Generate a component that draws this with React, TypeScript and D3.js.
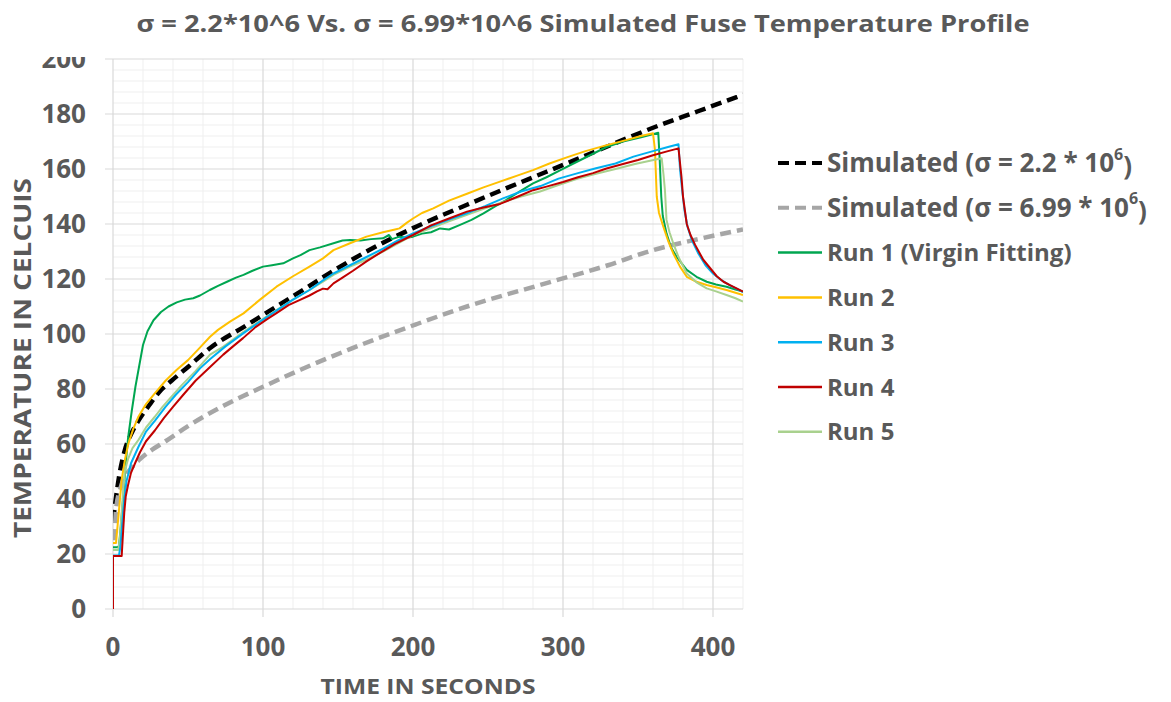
import * as d3 from "d3";

// ---- chart data ----
const TITLE = "σ = 2.2*10^6 Vs. σ = 6.99*10^6 Simulated Fuse Temperature Profile";
const X_LABEL = "TIME IN SECONDS";
const Y_LABEL = "TEMPERATURE IN CELCUIS";
const xTicks = [0, 100, 200, 300, 400];
const yTicks = [0, 20, 40, 60, 80, 100, 120, 140, 160, 180, 200];

// [time s, temperature C]
const simHigh: [number, number][] = [
  [0, 32], [4, 48], [8, 58], [12, 63.5], [17, 68.5], [24, 74], [31, 79], [39, 83], [50, 88],
  [65, 95], [87, 102.5], [109, 110], [131, 117.5], [147, 123], [169, 130], [200, 138.5],
  [236, 147], [260, 152.5], [289, 159], [320, 166], [360, 175], [390, 181], [420, 187],
];
const simLow: [number, number][] = [
  [1, 25], [2, 36], [5, 44], [8, 48], [12.5, 51.5], [18, 54.5], [25, 57.5], [35, 61],
  [50, 66.5], [74, 74], [100, 80.8], [125, 87], [158, 94.5], [202, 103.5], [236, 110],
  [289, 118.5], [330, 125], [360, 130.5], [390, 134.5], [420, 138],
];
const run1: [number, number][] = [
  [0, 22.5], [3, 22.5], [4, 23], [5.5, 32], [7, 42], [8.5, 53], [10, 62], [12.5, 72], [15, 81],
  [17, 87], [20, 96], [23, 101], [27, 105], [32, 108], [37, 110], [42.5, 111.5], [48, 112.5],
  [53.5, 113], [58, 114], [64.5, 116], [70, 117.5], [76, 119], [82, 120.5], [87, 121.5],
  [93, 123], [100, 124.5], [106, 125], [113.5, 125.7], [120, 127.5], [125, 128.7], [131, 130.5],
  [138, 131.5], [147, 133], [153, 134], [158, 134.2], [165, 134], [172, 134.5], [180, 134.8],
  [184, 136], [186, 134.5], [191, 135.4], [196, 135], [200, 135.4], [206, 136.5], [212, 137],
  [218, 138.4], [224, 138], [231, 139.6], [239, 141.5], [247, 143.9], [255, 146.5], [262, 148.7],
  [271, 151.8], [280, 154.8], [289, 157], [298, 159.5], [307, 162], [318, 165], [329, 168],
  [340, 170], [352, 171.5], [363.5, 173.2], [364.5, 163], [365.5, 150], [366.5, 143], [369, 136.6],
  [372, 131.5], [375.8, 128], [382.5, 123.3], [389, 120.8], [395.8, 119], [402, 118], [409, 117.2],
  [415, 116.2], [420, 115.4],
];
const run2: [number, number][] = [
  [0, 24], [2, 24], [3.6, 33.6], [5.8, 47], [8, 54.5], [10.2, 60], [13.5, 65.5], [17, 70],
  [22, 74.5], [28, 78.5], [35, 83], [42.5, 87], [50, 90.5], [57, 94.5], [64.7, 99], [70, 101.5],
  [78, 104.5], [87, 107.5], [98, 112.5], [109, 117.2], [120, 121], [131, 124.5], [140, 127.5],
  [147, 130.5], [158, 133], [169, 135.4], [180, 137], [188, 138], [191, 138.4], [196, 140.5],
  [200, 142], [206, 144], [213.5, 145.7], [224, 148.5], [236, 151], [247, 153.3], [258, 155.4],
  [269, 157.5], [280, 159.6], [291, 162], [303, 164.3], [315, 166.5], [328, 168.5], [342, 170.5],
  [352, 172], [360, 173], [361.3, 167], [362.5, 150], [364, 144], [366.9, 139], [370, 134],
  [373.5, 129.3], [378, 124.5], [382.5, 120.8], [389, 119], [395.8, 117.8], [402, 117], [409, 116],
  [415, 115], [420, 114.2],
];
const run3: [number, number][] = [
  [0, 19.5], [4, 19.5], [5, 23], [6, 30], [7.5, 40], [9, 46.5], [12, 53], [17, 59], [22, 64.5],
  [28, 68.5], [35, 73.5], [42, 78], [50, 82.5], [58, 87.5], [65, 91], [75, 95.5], [87, 100.3],
  [98, 104.5], [109, 108.5], [120, 112.5], [131, 116], [140, 119.5], [147, 122], [158, 125],
  [169, 128], [180, 131], [190, 134], [200, 136.6], [212, 139.2], [224, 141.6], [236, 143.9],
  [248, 146.5], [260, 149.3], [272, 151.8], [285, 153.8], [297, 156.5], [310, 158.5], [322, 160.3],
  [335, 162], [347, 164.5], [360, 166.5], [370, 168], [377, 169], [378, 160], [379.5, 152],
  [381, 145], [383, 139], [386, 134], [390, 129.5], [395, 125], [400, 122], [405, 119.8],
  [411, 117.8], [416, 116.4], [420, 115.2],
];
const run4: [number, number][] = [
  [0, 0], [0, 19.3], [5.8, 19.3], [6.5, 26], [7.5, 35], [8.5, 41], [10, 45], [12, 49.5],
  [14.7, 53], [18, 57], [22, 61], [28, 65], [34, 69.5], [40, 73.5], [47, 78], [55, 83], [64.7, 88],
  [73.5, 92.5], [80, 95.5], [86.7, 98.5], [95, 102.5], [103, 105.5], [109, 107.6], [117, 110.5],
  [124.7, 112.4], [131, 114], [136, 115.5], [140, 116.5], [143, 116.3], [147, 118.4], [153, 120.5],
  [160, 123], [169, 126.4], [178, 129.5], [188, 132.8], [200, 136], [212, 139.5], [224, 142],
  [236, 144.5], [247, 146], [258, 147.3], [270, 150], [280, 152.3], [289, 153.6], [300, 155.3],
  [310, 157], [320, 158.5], [329, 160.2], [340, 161.8], [350, 163.3], [360, 165], [370, 166.5],
  [377, 167.5], [379, 157], [380, 150], [382.5, 140], [385, 136], [388, 132.5], [393.5, 127],
  [398, 124], [402.5, 121], [407, 119], [411.3, 117.8], [416, 116.5], [420, 115.4],
];
const run5: [number, number][] = [
  [0, 21.5], [3.5, 21.5], [4.5, 25], [5.5, 33], [7, 44], [8, 50.5], [10, 54.5], [13, 58.5],
  [17, 61.5], [22, 66], [28, 70], [33, 73.5], [39, 77.2], [46, 81.5], [55, 86.5], [64.7, 92.5],
  [73.6, 95.4], [80, 98], [87, 100.8], [98, 104.8], [109, 108.7], [120, 112.5], [131, 116],
  [140, 119], [147, 121.5], [158, 124.5], [169, 127], [180, 130], [190, 133], [200, 136],
  [212, 138.5], [224, 141], [236, 143.3], [248, 145.7], [260, 148], [272, 150], [284.7, 151.8],
  [296, 154], [310, 156.5], [322, 158.3], [335, 160], [348, 161.8], [358, 163], [365.8, 163.9],
  [367, 158], [368, 152], [369, 141.5], [371, 137], [373.5, 133], [377, 128], [382.5, 122],
  [389, 118.8], [395.8, 116.6], [402, 115.5], [409, 114.2], [415, 113], [420, 111.8],
];

const W = 1171;
const H = 702;
const M = { left: 113, right: 743, top: 59, bottom: 609 };
const TEXT = "#595959";
const FONT = "'Open Sans', 'DejaVu Sans', sans-serif";

const series = [
  { name: "sim1", data: simHigh, color: "#000000", width: 4.5, dash: "11 6" },
  { name: "sim2", data: simLow, color: "#a6a6a6", width: 4.5, dash: "11 6" },
  { name: "run1", data: run1, color: "#00a650", width: 2, dash: null },
  { name: "run2", data: run2, color: "#ffc000", width: 2, dash: null },
  { name: "run5", data: run5, color: "#a9d18e", width: 2, dash: null },
  { name: "run3", data: run3, color: "#00b0f0", width: 2, dash: null },
  { name: "run4", data: run4, color: "#c00000", width: 2, dash: null },
];

const legend = [
  { label: "Simulated (σ = 2.2 * 10", sup: "6", color: "#000000", dash: "11 6", w: 4 },
  { label: "Simulated (σ = 6.99 * 10", sup: "6", color: "#a6a6a6", dash: "11 6", w: 4 },
  { label: "Run 1 (Virgin Fitting)", sup: null, color: "#00a650", dash: null, w: 2.5 },
  { label: "Run 2", sup: null, color: "#ffc000", dash: null, w: 2.5 },
  { label: "Run 3", sup: null, color: "#00b0f0", dash: null, w: 2.5 },
  { label: "Run 4", sup: null, color: "#c00000", dash: null, w: 2.5 },
  { label: "Run 5", sup: null, color: "#a9d18e", dash: null, w: 2.5 },
];

export default function App() {
  const x = d3.scaleLinear().domain([0, 420]).range([M.left, M.right]);
  const y = d3.scaleLinear().domain([0, 200]).range([M.bottom, M.top]);

  const line = d3
    .line<[number, number]>()
    .x((d) => x(d[0]))
    .y((d) => y(d[1]));
  const smooth = d3
    .line<[number, number]>()
    .x((d) => x(d[0]))
    .y((d) => y(d[1]))
    .curve(d3.curveMonotoneX);

  const xMinor = d3.range(0, 421, 20);
  const yMinor = d3.range(0, 201, 4);

  return (
    <svg
      width={W}
      height={H}
      style={{ position: "absolute", left: 0, top: 0, background: "#fff" }}
      fontFamily={FONT}
    >
      <defs>
        <clipPath id="plot">
          <rect x={M.left} y={M.top - 3} width={M.right - M.left} height={M.bottom - M.top + 3} />
        </clipPath>
        <clipPath id="ylab">
          <rect x={0} y={57} width={M.left} height={H} />
        </clipPath>
      </defs>

      <text x={583} y={32} textAnchor="middle" fontSize={24} fontWeight={700} fill={TEXT}
        textLength={893} lengthAdjust="spacingAndGlyphs">
        {TITLE}
      </text>

      {/* minor grid */}
      <g stroke="#efefef" strokeWidth={1}>
        {xMinor.filter((v) => v % 100 !== 0).map((v) => (
          <line key={"xm" + v} x1={x(v)} x2={x(v)} y1={M.top} y2={M.bottom} />
        ))}
        {yMinor.filter((v) => v % 20 !== 0).map((v) => (
          <line key={"ym" + v} x1={M.left} x2={M.right} y1={y(v)} y2={y(v)} />
        ))}
      </g>
      {/* major grid */}
      <g stroke="#d9d9d9" strokeWidth={1.2}>
        {xTicks.filter((v) => v > 0).map((v) => (
          <line key={"xM" + v} x1={x(v)} x2={x(v)} y1={M.top} y2={M.bottom + 8} />
        ))}
        {yTicks.map((v) => (
          <line key={"yM" + v} x1={M.left - 8} x2={M.right} y1={y(v)} y2={y(v)} />
        ))}
        <line x1={M.left} x2={M.left} y1={M.top} y2={M.bottom + 8} />
      </g>

      {/* axis labels */}
      <g clipPath="url(#ylab)" fontSize={26} fontWeight={700} fill={TEXT} textAnchor="end">
        {yTicks.map((v) => (
          <text key={"yl" + v} x={86} y={y(v)} dy="0.36em">{v}</text>
        ))}
      </g>
      <g fontSize={26} fontWeight={700} fill={TEXT} textAnchor="middle">
        {xTicks.map((v) => (
          <text key={"xl" + v} x={x(v)} y={656}>{v}</text>
        ))}
      </g>
      <text x={428} y={694} textAnchor="middle" fontSize={22} fontWeight={700} fill={TEXT}
        textLength={215} lengthAdjust="spacingAndGlyphs">
        {X_LABEL}
      </text>
      <text transform="translate(31,358) rotate(-90)" textAnchor="middle" fontSize={23}
        fontWeight={700} fill={TEXT} textLength={360} lengthAdjust="spacingAndGlyphs">
        {Y_LABEL}
      </text>

      {/* series */}
      <g clipPath="url(#plot)" fill="none">
        {series.map((s) => (
          <path
            key={s.name}
            d={(s.dash ? smooth(s.data) : line(s.data)) || ""}
            stroke={s.color}
            strokeWidth={s.width}
            strokeDasharray={s.dash || undefined}
            strokeLinejoin="round"
          />
        ))}
      </g>

      {/* legend */}
      <g fontWeight={700} fill={TEXT}>
        {legend.map((l, i) => {
          const cy = 163 + i * 44.8;
          return (
            <g key={l.label}>
              <line x1={778} x2={822} y1={cy} y2={cy} stroke={l.color} strokeWidth={l.w}
                strokeDasharray={l.dash || undefined} />
              <text x={827} y={cy} dy="0.36em" fontSize={l.sup ? 26 : 24}>
                {l.label}
                {l.sup && (
                  <tspan fontSize={16} dy="-0.8em">{l.sup}</tspan>
                )}
                {l.sup && <tspan dy="0.6em">)</tspan>}
              </text>
            </g>
          );
        })}
      </g>
    </svg>
  );
}
